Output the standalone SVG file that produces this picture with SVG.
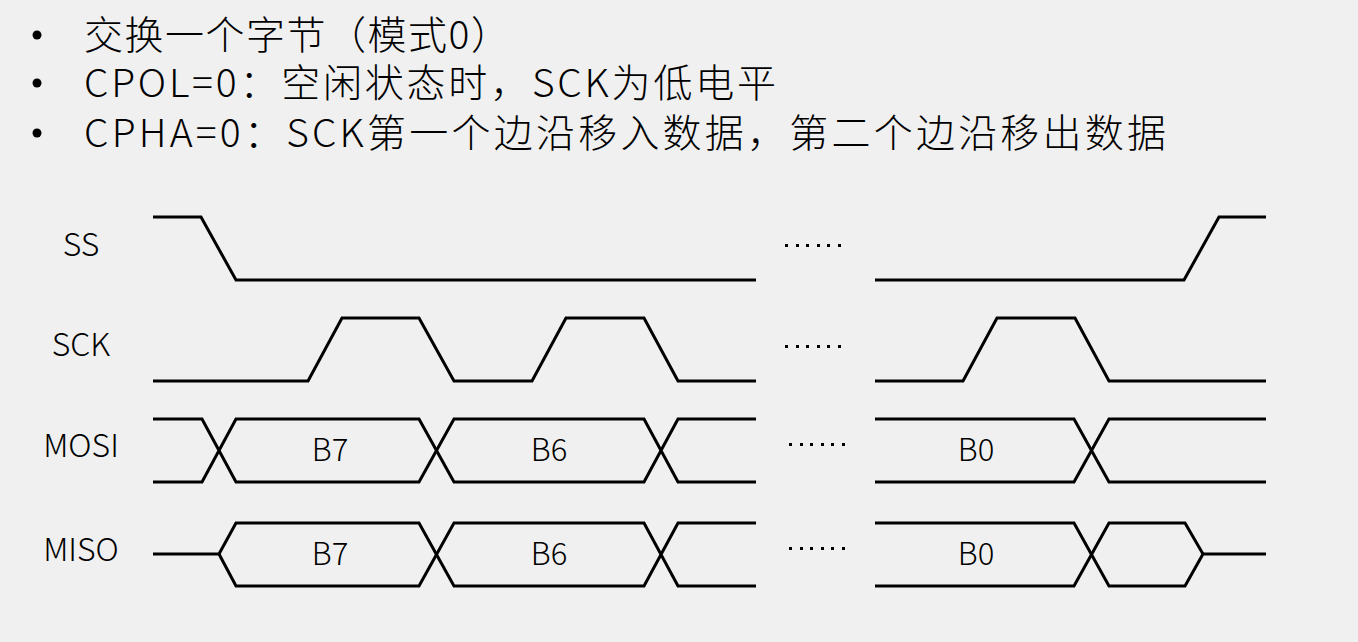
<svg xmlns="http://www.w3.org/2000/svg" width="1358" height="642" viewBox="0 0 1358 642">
<style>
text{font-family:"Noto Sans CJK SC","Liberation Sans",sans-serif;fill:#000;font-weight:300}
.b{font-size:39px}
.l{font-size:32px;text-anchor:middle}
.d{font-size:31px;text-anchor:middle}
.w{fill:none;stroke:#000;stroke-width:3;stroke-linejoin:miter}
</style>
<rect width="1358" height="642" fill="#f0f0f0"/>
<g id="bullets" class="b">
<circle cx="37" cy="35" r="4.5"/><text x="84" y="49" textLength="426" lengthAdjust="spacing">交换一个字节（模式0）</text>
<circle cx="37" cy="83" r="4.5"/><text x="84" y="97" textLength="692" lengthAdjust="spacing">CPOL=0：空闲状态时，SCK为低电平</text>
<circle cx="37" cy="133" r="4.5"/><text x="84" y="147" textLength="1082" lengthAdjust="spacing">CPHA=0：SCK第一个边沿移入数据，第二个边沿移出数据</text>
</g>
<g id="labels" class="l">
<text x="81" y="256">SS</text>
<text x="81" y="356">SCK</text>
<text x="81" y="457">MOSI</text>
<text x="81" y="561">MISO</text>
</g>
<g id="connectors" class="w">
<path d="M153 217H201L236 280H756"/>
<path d="M875 280H1184L1219 217H1266"/>
<path d="M153 381H308L342 318H419L454 381H532L566 318H644L678 381H756"/>
<path d="M875 381H963L997 318H1075L1109 381H1266"/>
<path d="M153 419H202L236 482H419L454 419H644L678 482H756"/>
<path d="M153 482H202L236 419H419L454 482H644L678 419H756"/>
<path d="M875 419H1074L1109 482H1266"/>
<path d="M875 482H1074L1109 419H1266"/>
<path d="M153 554H219L236 523H419L454 586H644L678 523H756"/>
<path d="M219 554L236 586H419L454 523H644L678 586H756"/>
<path d="M875 523H1074L1109 586H1185L1203 554H1266"/>
<path d="M875 586H1074L1109 523H1185L1203 554"/>
</g>
<g id="data" class="d">
<text x="330" y="461">B7</text><text x="549" y="461">B6</text><text x="976" y="461">B0</text>
<text x="330" y="565">B7</text><text x="549" y="565">B6</text><text x="976" y="565">B0</text>
</g>
<g id="dots" fill="#000">
<g id="d1"><rect x="785" y="244" width="3" height="3"/><rect x="796" y="244" width="3" height="3"/><rect x="806" y="244" width="3" height="3"/><rect x="817" y="244" width="3" height="3"/><rect x="827" y="244" width="3" height="3"/><rect x="838" y="244" width="3" height="3"/></g>
<use href="#d1" y="101"/>
<use href="#d1" x="4" y="199"/>
<use href="#d1" x="4" y="303"/>
</g>
</svg>
